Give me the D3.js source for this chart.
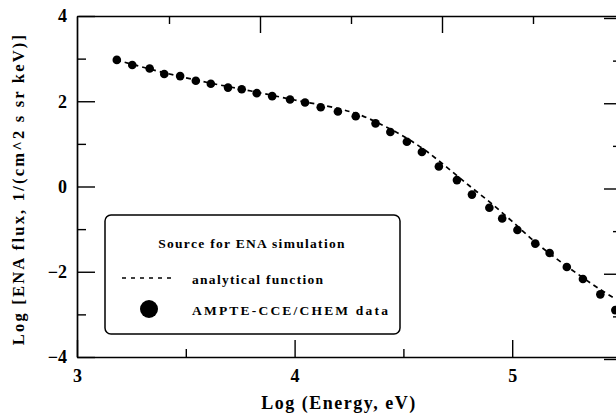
<!DOCTYPE html>
<html>
<head>
<meta charset="utf-8">
<script src="https://cdn.jsdelivr.net/npm/d3@7"></script>
<style>
  body { margin: 0; background: #fff; }
  svg { display: block; }
  text { font-family: "Liberation Serif", "Times New Roman", serif; font-weight: bold; fill: #000; }
</style>
</head>
<body>
<script>
var svgWidth = 616
var svgHeight = 414

// AMPTE-CCE/CHEM data points (log energy, log flux)
var dataLogE = [3.183, 3.254, 3.334, 3.401, 3.474, 3.546, 3.615, 3.694, 3.757, 3.826,
  3.897, 3.979, 4.048, 4.120, 4.199, 4.281, 4.372, 4.440, 4.516, 4.585,
  4.663, 4.746, 4.815, 4.895, 4.954, 5.024, 5.106, 5.172, 5.251, 5.325,
  5.405, 5.474];
var dataLogFlux = [2.97, 2.85, 2.77, 2.64, 2.59, 2.48, 2.41, 2.32, 2.28, 2.19,
  2.12, 2.04, 1.97, 1.86, 1.76, 1.65, 1.48, 1.28, 1.05, 0.81,
  0.47, 0.15, -0.19, -0.50, -0.75, -1.02, -1.34, -1.56, -1.89, -2.17,
  -2.53, -2.90];

// analytical function
var fitLogE = [3.18, 3.4, 3.6, 3.8, 4.0, 4.2, 4.3, 4.4, 4.5, 4.6, 4.7, 4.8, 4.9, 5.0, 5.1, 5.2, 5.3, 5.4, 5.5];
var fitLogFlux = [2.97, 2.67, 2.44, 2.24, 2.03, 1.83, 1.68, 1.45, 1.18, 0.85, 0.45, 0.03, -0.38, -0.82, -1.28, -1.68, -2.05, -2.40, -2.72];

var xMajor = [3, 4, 5];
var xMinor = [3.5, 4.5, 5.5];
var yMajor = [-4, -2, 0, 2, 4];
var yMinor = [-3, -1, 1, 3];
var topMajor = [1, 2, 3];
var topMinor = [0.5, 1.5, 2.5];

var legendTitle = "Source for ENA simulation";
var legendLine = "analytical function";
var legendDots = "AMPTE-CCE/CHEM data";

var svg = d3.select("body").append("svg")
  .attr("width", svgWidth)
  .attr("height", svgHeight);

svg.append("rect").attr("width", svgWidth).attr("height", svgHeight).attr("fill", "#fff");

var x = d3.scaleLinear().domain([3, 5.5]).range([77, 621]);
var y = d3.scaleLinear().domain([-4, 4]).range([357, 16]);
var xTop = d3.scaleLinear().domain([0, 3]).range([78, 624]);

function styleAxis(g, hideDomain) {
  g.selectAll("line").attr("stroke", "#000").attr("stroke-width", 1.4);
  g.select(".domain").attr("stroke", "#000").attr("stroke-width", 1.7);
  if (hideDomain) g.select(".domain").remove();
  g.selectAll("text").attr("font-size", 18).attr("font-family", null);
}

// left axis
svg.append("g").attr("transform", "translate(77,0)")
  .call(d3.axisLeft(y).tickValues(yMajor).tickSize(-18).tickSizeOuter(0).tickPadding(10).tickFormat(d3.format("d")))
  .call(styleAxis, false);
svg.append("g").attr("transform", "translate(77,0)")
  .call(d3.axisLeft(y).tickValues(yMinor).tickSize(-9).tickFormat(""))
  .call(styleAxis, true);

// right axis
svg.append("g").attr("transform", "translate(622,2)")
  .call(d3.axisRight(y).tickValues(yMajor).tickSize(-18).tickSizeOuter(0).tickFormat(""))
  .call(styleAxis, false);
svg.append("g").attr("transform", "translate(622,2)")
  .call(d3.axisRight(y).tickValues(yMinor).tickSize(-9).tickFormat(""))
  .call(styleAxis, true);

// bottom axis
svg.append("g").attr("transform", "translate(0,357)")
  .call(d3.axisBottom(x).tickValues(xMajor).tickSize(-17).tickSizeOuter(0).tickPadding(12).tickFormat(d3.format("d")))
  .call(styleAxis, false);
svg.append("g").attr("transform", "translate(0,357)")
  .call(d3.axisBottom(x).tickValues(xMinor).tickSize(-8).tickFormat(""))
  .call(styleAxis, true);

// top axis
svg.append("g").attr("transform", "translate(0,16)")
  .call(d3.axisTop(xTop).tickValues(topMajor).tickSize(-17).tickSizeOuter(0).tickFormat(""))
  .call(styleAxis, false);
svg.append("g").attr("transform", "translate(0,16)")
  .call(d3.axisTop(xTop).tickValues(topMinor).tickSize(-8).tickFormat(""))
  .call(styleAxis, true);

// analytical curve
var fit = fitLogE.map(function(d, i) { return [d, fitLogFlux[i]]; });
svg.append("path")
  .datum(fit)
  .attr("fill", "none")
  .attr("stroke", "#000")
  .attr("stroke-width", 1.7)
  .attr("stroke-dasharray", "5,4")
  .attr("d", d3.line().x(function(d) { return x(d[0]); }).y(function(d) { return y(d[1]); }).curve(d3.curveCatmullRom));

// data dots
svg.selectAll(".dot")
  .data(dataLogE)
  .enter().append("circle")
  .attr("class", "dot")
  .attr("cx", function(d) { return x(d); })
  .attr("cy", function(d, i) { return y(dataLogFlux[i]); })
  .attr("r", 4.3)
  .attr("fill", "#000");

// axis titles
svg.append("text")
  .attr("x", 339).attr("y", 409)
  .attr("text-anchor", "middle")
  .attr("font-size", 18)
  .attr("letter-spacing", 1.5)
  .text("Log (Energy, eV)");

svg.append("text")
  .attr("transform", "translate(24,189) rotate(-90)")
  .attr("text-anchor", "middle")
  .attr("font-size", 16.5)
  .attr("letter-spacing", 2.2)
  .text("Log [ENA flux, 1/(cm^2 s sr keV)]");

// legend
var legend = svg.append("g");
legend.append("rect")
  .attr("x", 105).attr("y", 215)
  .attr("width", 295).attr("height", 119)
  .attr("rx", 6)
  .attr("fill", "#fff")
  .attr("stroke", "#000")
  .attr("stroke-width", 1.5);
legend.append("text")
  .attr("x", 252).attr("y", 248)
  .attr("text-anchor", "middle")
  .attr("font-size", 13.5)
  .attr("letter-spacing", 1.3)
  .text(legendTitle);
legend.append("line")
  .attr("x1", 122).attr("x2", 173).attr("y1", 278).attr("y2", 278)
  .attr("stroke", "#000").attr("stroke-width", 1.4)
  .attr("stroke-dasharray", "4,5");
legend.append("text")
  .attr("x", 192).attr("y", 284)
  .attr("font-size", 13.5)
  .attr("letter-spacing", 1.3)
  .text(legendLine);
legend.append("circle")
  .attr("cx", 149).attr("cy", 309).attr("r", 9)
  .attr("fill", "#000");
legend.append("text")
  .attr("x", 192).attr("y", 315)
  .attr("font-size", 13.5)
  .attr("letter-spacing", 2.2)
  .text(legendDots);
</script>
</body>
</html>
